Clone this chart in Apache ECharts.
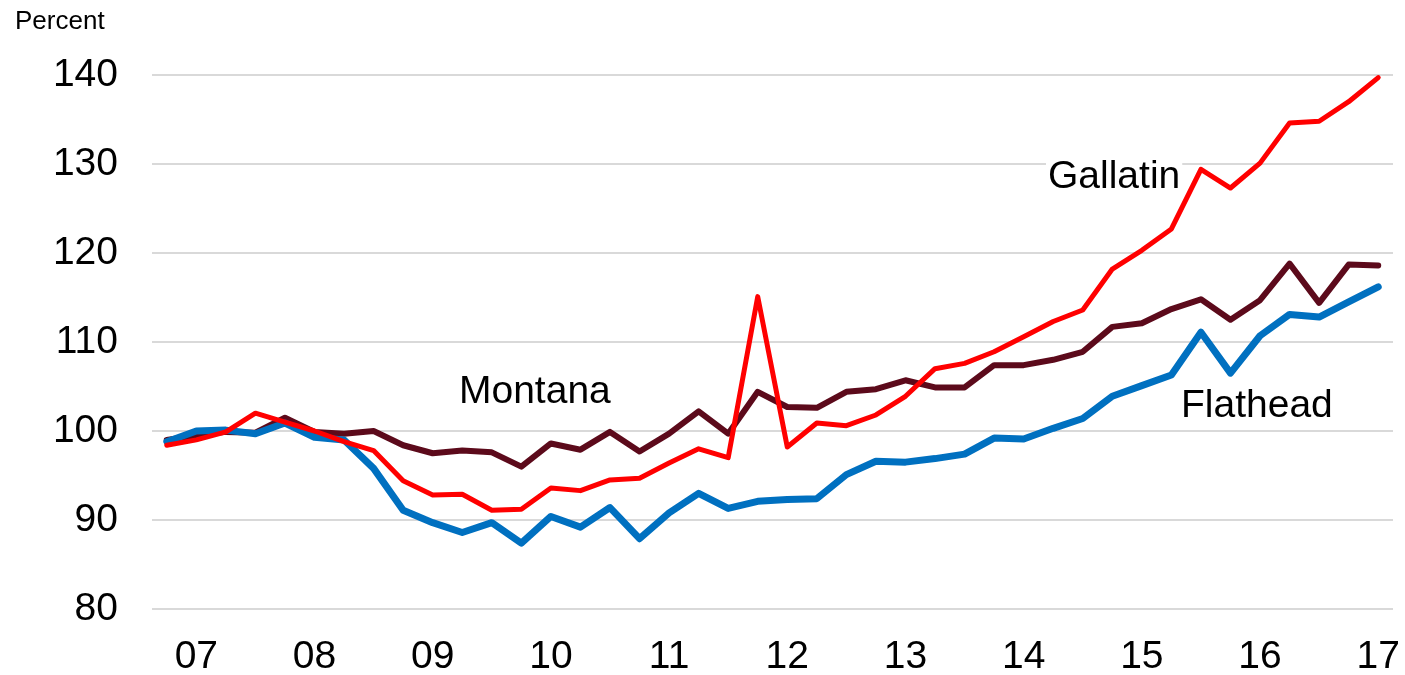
<!DOCTYPE html>
<html>
<head>
<meta charset="utf-8">
<title>Montana, Gallatin, Flathead</title>
<script src="https://cdn.jsdelivr.net/npm/echarts@6/dist/echarts.min.js"></script>
<style>
  html, body { margin: 0; padding: 0; background: #fff; }
  #chart { width: 1405px; height: 675px; }
</style>
</head>
<body>
<div id="chart"></div>
<script>
// quarters, 2006 Q4 .. 2017 Q1
var quarters = []
for (var y = 2006; y <= 2017; y++) {
  for (var q = 1; q <= 4; q++) {
    if ((y === 2006 && q < 4) || (y === 2017 && q > 1)) continue
    quarters.push(y + ' Q' + q)
  }
}

var montana = [99.0, 99.5, 99.9, 99.8, 101.5, 99.9, 99.7, 100.0, 98.4, 97.5,
  97.8, 97.6, 96.0, 98.6, 97.9, 99.9, 97.7, 99.7, 102.2, 99.7,
  104.4, 102.7, 102.6, 104.4, 104.7, 105.7, 104.9, 104.9, 107.4, 107.4,
  108.0, 108.9, 111.7, 112.1, 113.7, 114.8, 112.5, 114.7, 118.8, 114.4,
  118.7, 118.6]

var flathead = [98.8, 100.0, 100.1, 99.7, 100.9, 99.3, 99.0, 95.8, 91.1, 89.7,
  88.6, 89.7, 87.4, 90.4, 89.2, 91.4, 87.9, 90.8, 93.0, 91.3,
  92.1, 92.3, 92.4, 95.1, 96.6, 96.5, 96.9, 97.4, 99.2, 99.1,
  100.3, 101.4, 103.9, 105.1, 106.3, 111.1, 106.5, 110.7, 113.1, 112.8,
  114.5, 116.2]

var gallatin = [98.4, 99.0, 99.9, 102.0, 101.0, 100.0, 98.8, 97.8, 94.4, 92.8,
  92.9, 91.1, 91.2, 93.6, 93.3, 94.5, 94.7, 96.4, 98.0, 97.0,
  115.1, 98.2, 100.9, 100.6, 101.8, 103.9, 107.0, 107.6, 108.9, 110.6,
  112.3, 113.6, 118.2, 120.3, 122.7, 129.4, 127.3, 130.1, 134.6, 134.8,
  137.0, 139.7]

var fontFam = 'Liberation Sans, Arial, sans-serif'

var chart = echarts.init(document.getElementById('chart'))

function lineSeries (name, data, color, width) {
  return {
    name: name,
    type: 'line',
    data: data,
    symbol: 'none',
    smooth: false,
    z: 3,
    lineStyle: { color: color, width: width, cap: 'round', join: 'round' },
    itemStyle: { color: color },
    animation: false
  }
}

var option = {
  backgroundColor: '#fff',
  animation: false,
  textStyle: { fontFamily: fontFam },
  grid: { left: 152, right: 12, top: 75, bottom: 66, outerBoundsMode: 'none' },
  xAxis: {
    type: 'category',
    data: quarters,
    boundaryGap: true,
    axisLine: { show: false },
    axisTick: { show: false },
    axisLabel: {
      interval: 0,
      margin: 29,
      color: '#000',
      fontSize: 39,
      fontFamily: fontFam,
      formatter: function (v) {
        return v.slice(-2) === 'Q1' ? v.slice(2, 4) : ''
      }
    },
    splitLine: { show: false }
  },
  yAxis: {
    type: 'value',
    min: 80,
    max: 140,
    interval: 10,
    axisLine: { show: false },
    axisTick: { show: false },
    axisLabel: { color: '#000', fontSize: 39, fontFamily: fontFam, margin: 34 },
    splitLine: { lineStyle: { color: '#d9d9d9', width: 2 } }
  },
  series: [
    lineSeries('Montana', montana, '#5c0a1b', 6),
    lineSeries('Flathead', flathead, '#0070c0', 7),
    lineSeries('Gallatin', gallatin, '#ff0000', 5)
  ],
  graphic: [
    { type: 'text', left: 459, top: 373, z: 1, style: { text: 'Montana', font: '39px ' + fontFam, fill: '#000' } },
    { type: 'text', left: 1046, top: 158, z: 1, style: { text: 'Gallatin', font: '39px ' + fontFam, fill: '#000', backgroundColor: '#fff', padding: [0, 2, 0, 2] } },
    { type: 'text', left: 1181, top: 387, z: 1, style: { text: 'Flathead', font: '39px ' + fontFam, fill: '#000' } },
    { type: 'text', left: 15, top: 9, z: 1, style: { text: 'Percent', font: '26px ' + fontFam, fill: '#000' } }
  ]
}

chart.setOption(option)
</script>
</body>
</html>
